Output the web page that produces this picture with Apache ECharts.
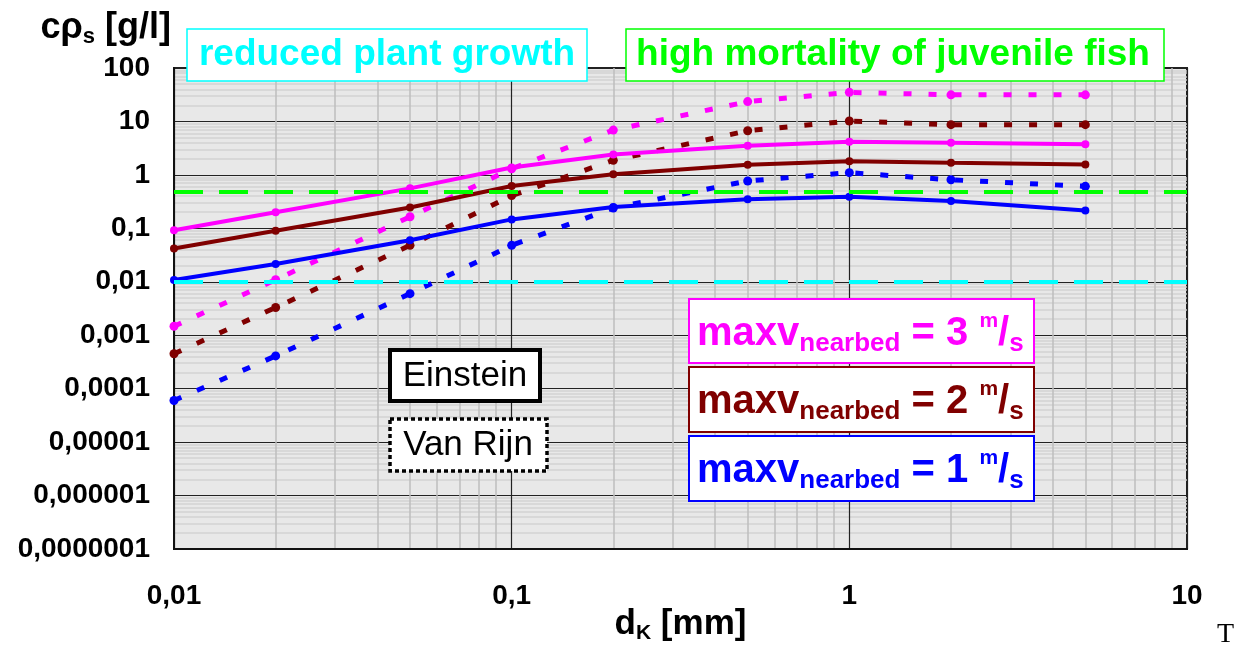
<!DOCTYPE html>
<html><head><meta charset="utf-8">
<script src="https://cdn.jsdelivr.net/npm/echarts@6/dist/echarts.min.js"></script>
<style>html,body{margin:0;padding:0;background:#fff}#c{width:1234px;height:648px}</style>
</head><body><div id="c"></div>
<script>
// grain diameter d_K [mm]
const grainSizes = [0.01, 0.02, 0.05, 0.1, 0.2, 0.5, 1, 2, 5];
// Einstein (solid)
const einstein3 = [0.092, 0.2, 0.56, 1.37, 2.4, 3.5, 4.15, 4.0, 3.75];
const einstein2 = [0.042, 0.09, 0.245, 0.62, 1.03, 1.55, 1.8, 1.68, 1.57];
const einstein1 = [0.0108, 0.0215, 0.06, 0.147, 0.25, 0.35, 0.39, 0.325, 0.215];
// Van Rijn (dotted)
const vanrijn3 = [0.00147, 0.0109, 0.165, 1.3, 6.9, 23.5, 35, 31.5, 31.5];
const vanrijn2 = [0.00045, 0.0033, 0.048, 0.41, 1.87, 6.7, 10.2, 8.7, 8.7];
const vanrijn1 = [0.00006, 0.00041, 0.006, 0.048, 0.24, 0.77, 1.1, 0.81, 0.61];
// thresholds
const plantThreshold = 0.01;
const fishThreshold = 0.48;
// tick labels
const xTickLabels = ['0,01', '0,1', '1', '10'];
const yTickLabels = ['0,0000001', '0,000001', '0,00001', '0,0001', '0,001', '0,01', '0,1', '1', '10', '100'];
const xMinExp = -2, yMinExp = -7;

const FONT = '"Liberation Sans", Arial, sans-serif';
const MAGENTA = '#ff00ff', DARKRED = '#800000', BLUE = '#0000ff';

function pairs(ys) { return grainSizes.map((x, i) => [x, ys[i]]); }
function lineSeries(name, ys, color, dashed) {
  return {
    name, type: 'line', data: pairs(ys), symbol: 'circle', symbolSize: dashed ? 9 : 8,
    lineStyle: { color, width: dashed ? 5 : 4, type: dashed ? [8, 17] : 'solid', cap: 'butt' },
    itemStyle: { color }, z: dashed ? 3 : 4, silent: true, animation: false
  };
}

const chart = echarts.init(document.getElementById('c'), null, { renderer: 'canvas' });

function velText(v, color) {
  return {
    text: '{a|maxv}{b|nearbed}{a| = ' + v + ' }{c|m}{a|/}{b|s}',
    fill: color,
    align: 'left', verticalAlign: 'middle',
    rich: {
      a: { fontSize: 40, fontWeight: 'bold', fontFamily: FONT, fill: color, lineHeight: 46 },
      b: { fontSize: 26, fontWeight: 'bold', fontFamily: FONT, fill: color, lineHeight: 24, verticalAlign: 'bottom' },
      c: { fontSize: 21, fontWeight: 'bold', fontFamily: FONT, fill: color, lineHeight: 21, verticalAlign: 'top' }
    }
  };
}

const option = {
  animation: false,
  backgroundColor: '#ffffff',
  grid: { left: 174, right: 47, top: 68, bottom: 99, show: true, backgroundColor: '#e8e8e8', borderColor: '#222', borderWidth: 2,
    containLabel: false, outerBoundsMode: 'none' },
  xAxis: {
    type: 'log', logBase: 10, min: 0.01, max: 10,
    name: 'd{k|K} [mm]', nameLocation: 'middle', nameGap: 55, nameMoveOverlap: false,
    nameTextStyle: { fontSize: 35, fontWeight: 'bold', fontFamily: FONT, color: '#000', lineHeight: 40, verticalAlign: 'top',
      rich: { k: { fontSize: 21, fontWeight: 'bold', fontFamily: FONT, color: '#000', lineHeight: 16, verticalAlign: 'bottom' } } },
    axisLine: { lineStyle: { color: '#111', width: 2 } },
    axisTick: { show: false },
    axisLabel: { fontSize: 28, fontWeight: 'bold', fontFamily: FONT, color: '#000', margin: 33, showMinLabel: true, showMaxLabel: true,
      formatter: v => xTickLabels[Math.round(Math.log10(v)) - xMinExp] },
    splitLine: { show: true, lineStyle: { color: '#222', width: 1.2 } },
    minorTick: { show: false, splitNumber: 9 },
    minorSplitLine: { show: true, lineStyle: { color: '#bdbdbd', width: 1.5 } }
  },
  yAxis: {
    type: 'log', logBase: 10, min: 1e-7, max: 100, splitNumber: 9,
    name: 'cρ{s|s} [g/l]', nameLocation: 'end', nameGap: 20, nameMoveOverlap: false,
    nameTextStyle: { fontSize: 36, fontWeight: 'bold', fontFamily: FONT, color: '#000', lineHeight: 40, align: 'right', verticalAlign: 'bottom', padding: [0, 3, 0, 0],
      rich: { s: { fontSize: 22, fontWeight: 'bold', fontFamily: FONT, color: '#000', lineHeight: 16, verticalAlign: 'bottom' } } },
    axisLine: { lineStyle: { color: '#111', width: 2 } },
    axisTick: { show: false },
    axisLabel: { fontSize: 28, fontWeight: 'bold', fontFamily: FONT, color: '#000', margin: 24, showMinLabel: true, showMaxLabel: true,
      formatter: v => yTickLabels[Math.round(Math.log10(v)) - yMinExp] },
    splitLine: { show: true, lineStyle: { color: '#222', width: 1.2 } },
    minorTick: { show: false, splitNumber: 9 },
    minorSplitLine: { show: true, lineStyle: { color: '#d2d2d2', width: 1.5 } }
  },
  series: [
    Object.assign(lineSeries('Van Rijn 1 m/s', vanrijn1, BLUE, true), {
      markLine: {
        silent: true, symbol: 'none', label: { show: false }, animation: false,
        data: [
          { yAxis: fishThreshold, lineStyle: { color: '#00ff00', width: 4, type: [29, 16], cap: 'butt' } },
          { yAxis: plantThreshold, lineStyle: { color: '#00ffff', width: 4, type: [29, 16], cap: 'butt' } }
        ]
      }
    }),
    lineSeries('Van Rijn 2 m/s', vanrijn2, DARKRED, true),
    lineSeries('Van Rijn 3 m/s', vanrijn3, MAGENTA, true),
    lineSeries('Einstein 1 m/s', einstein1, BLUE, false),
    lineSeries('Einstein 2 m/s', einstein2, DARKRED, false),
    lineSeries('Einstein 3 m/s', einstein3, MAGENTA, false)
  ],
  graphic: [
    { type: 'rect', z: 100, shape: { x: 187, y: 29, width: 400, height: 52 }, style: { fill: '#fff', stroke: '#00ffff', lineWidth: 1.5 } },
    { type: 'text', z: 101, x: 387, y: 55, style: { text: 'reduced plant growth', fill: '#00ffff', fontSize: 37, fontWeight: 'bold', fontFamily: FONT, align: 'center', verticalAlign: 'middle' } },
    { type: 'rect', z: 100, shape: { x: 626, y: 29, width: 538, height: 52 }, style: { fill: '#fff', stroke: '#00ff00', lineWidth: 1.5 } },
    { type: 'text', z: 101, x: 893, y: 55, style: { text: 'high mortality of juvenile fish', fill: '#00ff00', fontSize: 37, fontWeight: 'bold', fontFamily: FONT, align: 'center', verticalAlign: 'middle' } },

    { type: 'rect', z: 100, shape: { x: 390, y: 350, width: 150, height: 51 }, style: { fill: '#fff', stroke: '#000', lineWidth: 4 } },
    { type: 'text', z: 101, x: 465, y: 376, style: { text: 'Einstein', fill: '#000', fontSize: 35, fontFamily: FONT, align: 'center', verticalAlign: 'middle' } },
    { type: 'rect', z: 100, shape: { x: 390, y: 419, width: 157, height: 52 }, style: { fill: '#fff', stroke: '#000', lineWidth: 3.5, lineDash: [4, 3] } },
    { type: 'text', z: 101, x: 468, y: 445, style: { text: 'Van Rijn', fill: '#000', fontSize: 35, fontFamily: FONT, align: 'center', verticalAlign: 'middle' } },

    { type: 'rect', z: 100, shape: { x: 689, y: 299, width: 345, height: 64 }, style: { fill: '#fff', stroke: MAGENTA, lineWidth: 2 } },
    { type: 'text', z: 101, x: 697, y: 334, style: velText(3, MAGENTA) },
    { type: 'rect', z: 100, shape: { x: 689, y: 367, width: 345, height: 65 }, style: { fill: '#fff', stroke: DARKRED, lineWidth: 2 } },
    { type: 'text', z: 101, x: 697, y: 402, style: velText(2, DARKRED) },
    { type: 'rect', z: 100, shape: { x: 689, y: 436, width: 345, height: 65 }, style: { fill: '#fff', stroke: BLUE, lineWidth: 2 } },
    { type: 'text', z: 101, x: 697, y: 471, style: velText(1, BLUE) },

    { type: 'text', z: 101, x: 1217, y: 649, style: { text: 'T', fill: '#000', fontSize: 28, fontFamily: '"Liberation Serif", "Times New Roman", serif', align: 'left', verticalAlign: 'bottom' } }
  ]
};
chart.setOption(option);
</script></body></html>
